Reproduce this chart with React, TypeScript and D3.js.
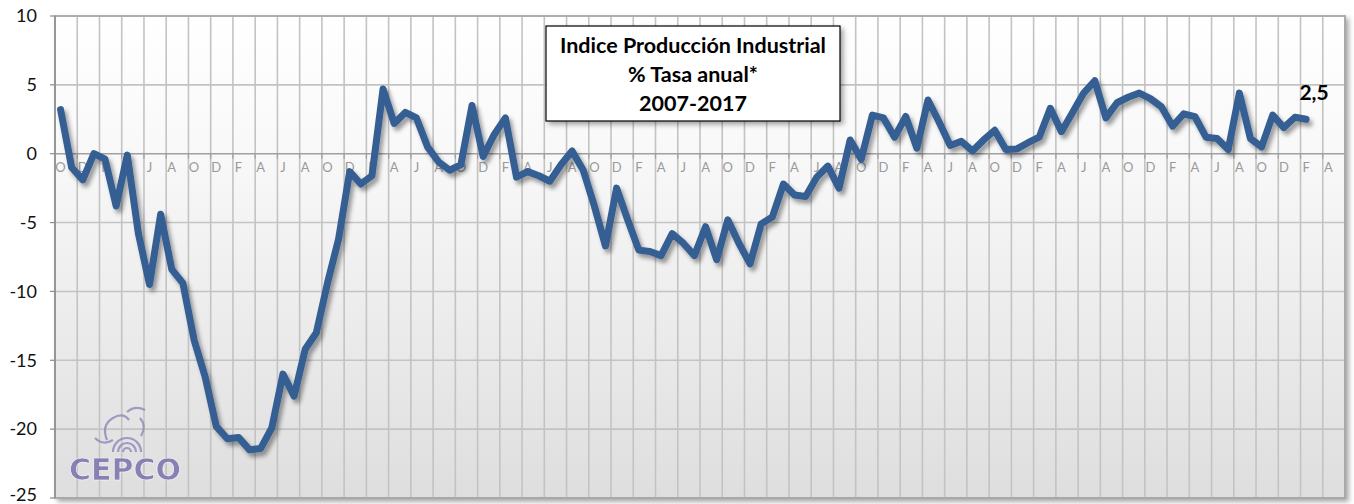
import React from "react";
import * as d3 from "d3";

const MONTH_INITIALS = ["E", "F", "M", "A", "M", "J", "J", "A", "S", "O", "N", "D"];
// categories: Oct 2007 .. May 2017 (116 months); data through Feb 2017
const START_YEAR = 2007;
const START_MONTH = 9; // October (0-based)
const N_CATEGORIES = 116;

const values: number[] = [
  3.2, -1.0, -1.9, 0.0, -0.4, -3.8, -0.1, -5.8, -9.5, -4.4, -8.4, -9.4,
  -13.5, -16.2, -19.8, -20.7, -20.6, -21.5, -21.4, -19.9, -16.0, -17.6, -14.2, -13.0,
  -9.4, -6.2, -1.3, -2.2, -1.6, 4.7, 2.2, 3.0, 2.6, 0.5, -0.6, -1.2,
  -0.8, 3.5, -0.2, 1.4, 2.6, -1.7, -1.3, -1.6, -2.0, -0.8, 0.2, -1.2,
  -3.8, -6.7, -2.5, -4.8, -7.0, -7.1, -7.4, -5.8, -6.5, -7.4, -5.3, -7.7,
  -4.8, -6.5, -8.0, -5.1, -4.6, -2.2, -3.0, -3.1, -1.7, -0.9, -2.5, 1.0,
  -0.4, 2.8, 2.6, 1.2, 2.7, 0.4, 3.9, 2.3, 0.6, 0.9, 0.2, 1.0,
  1.7, 0.3, 0.35, 0.8, 1.2, 3.3, 1.6, 3.0, 4.4, 5.3, 2.6, 3.7,
  4.1, 4.4, 4.0, 3.4, 2.0, 2.9, 2.7, 1.2, 1.1, 0.3, 4.4, 1.1,
  0.5, 2.8, 1.9, 2.65, 2.5,
];

const yTicks: number[] = [10, 5, 0, -5, -10, -15, -20, -25];
const titleLines: string[] = ["Indice Producción Industrial", "% Tasa anual*", "2007-2017"];
const lastLabel = "2,5";

// unique category keys (year-month) and their one-letter labels
const categories: string[] = d3.range(N_CATEGORIES).map((i) => {
  const m = (START_MONTH + i) % 12;
  const y = START_YEAR + Math.floor((START_MONTH + i) / 12);
  return `${y}-${String(m + 1).padStart(2, "0")}`;
});
const categoryLabels: string[] = d3.range(N_CATEGORIES).map(
  (i) => MONTH_INITIALS[(START_MONTH + i) % 12]
);

const W = 1354;
const H = 504;
const M = { left: 55, right: 1345, top: 16, bottom: 498 };

export default function App() {
  const x = d3
    .scaleBand<string>()
    .domain(categories)
    .range([M.left, M.right])
    .padding(0);
  const bw = x.bandwidth();
  const cx = (i: number) => (x(categories[i]) as number) + bw / 2;
  const y = d3.scaleLinear().domain([-25, 10]).range([M.bottom, M.top]);

  const line = d3
    .line<number>()
    .x((_, i) => cx(i))
    .y((d) => y(d))
    .curve(d3.curveLinear);

  const gridIdx = d3.range(2, N_CATEGORIES, 2);
  const labelIdx = d3.range(0, N_CATEGORIES, 2);
  const lastI = values.length - 1;

  const font = "Lato, 'Open Sans', sans-serif";

  return (
    <svg
      width={W}
      height={H}
      style={{ position: "absolute", left: 0, top: 0, background: "#fff" }}
    >
      <defs>
        <linearGradient id="bg" x1="0" y1="0" x2="0" y2="1">
          <stop offset="0" stopColor="#ffffff" />
          <stop offset="0.3" stopColor="#f8f8f8" />
          <stop offset="1" stopColor="#dedede" />
        </linearGradient>
        <filter id="lineShadow" x="-5%" y="-5%" width="110%" height="120%">
          <feDropShadow dx="3" dy="4" stdDeviation="2.2" floodColor="#000" floodOpacity="0.38" />
        </filter>
        <filter id="boxShadow" x="-10%" y="-10%" width="120%" height="130%">
          <feDropShadow dx="3" dy="3" stdDeviation="2.5" floodColor="#000" floodOpacity="0.35" />
        </filter>
        <filter id="plotShadow" x="-2%" y="-2%" width="104%" height="106%">
          <feDropShadow dx="3" dy="3" stdDeviation="2.5" floodColor="#000" floodOpacity="0.35" />
        </filter>
      </defs>

      {/* plot area */}
      <rect
        x={M.left}
        y={M.top}
        width={M.right - M.left}
        height={M.bottom - M.top}
        fill="url(#bg)"
        stroke="#a6a6a6"
        strokeWidth={1.5}
        filter="url(#plotShadow)"
      />

      {/* vertical gridlines */}
      {gridIdx.map((i) => {
        const gx = x(categories[i]) as number;
        return (
          <line key={"v" + i} x1={gx} x2={gx} y1={M.top} y2={M.bottom} stroke="#c3c3c3" strokeWidth={1.6} />
        );
      })}
      {/* horizontal gridlines */}
      {yTicks.filter((t) => t !== -25 && t !== 0).map((t) => (
        <line key={"h" + t} x1={M.left} x2={M.right} y1={y(t)} y2={y(t)} stroke="#c3c3c3" strokeWidth={1.6} />
      ))}
      <line x1={M.left} x2={M.right} y1={y(0)} y2={y(0)} stroke="#a0a0a0" strokeWidth={1.6} />
      {gridIdx.map((i) => {
        const gx = x(categories[i]) as number;
        return <line key={"zt" + i} x1={gx} x2={gx} y1={y(0)} y2={y(0) + 5} stroke="#a0a0a0" strokeWidth={1.2} />;
      })}

      {/* plot frame */}
      <rect
        x={M.left}
        y={M.top}
        width={M.right - M.left}
        height={M.bottom - M.top}
        fill="none"
        stroke="#a6a6a6"
        strokeWidth={1.5}
      />
      <line x1={M.left} x2={M.left} y1={M.top} y2={M.bottom} stroke="#8c8c8c" strokeWidth={1.3} />

      {/* y axis ticks and labels */}
      {yTicks.map((t) => (
        <g key={"yt" + t}>
          <line x1={M.left - 5} x2={M.left} y1={y(t)} y2={y(t)} stroke="#8c8c8c" strokeWidth={1.2} />
          <text
            x={37}
            y={Math.min(y(t), H - 9)}
            dy="0.35em"
            textAnchor="end"
            fontFamily={font}
            fontSize={18}
            fill="#111"
          >
            {t}
          </text>
        </g>
      ))}

      {/* month labels */}
      {labelIdx.map((i) => (
        <text
          key={"ml" + i}
          x={cx(i)}
          y={y(0) + 14}
          dy="0.35em"
          textAnchor="middle"
          fontFamily={font}
          fontSize={13}
          fill="#9a9a9a"
        >
          {categoryLabels[i]}
        </text>
      ))}

      {/* logo */}
      <g opacity={0.8}>
        <g fill="none" stroke="#8f89b8" strokeWidth={2.2}>
          <path d={`M 113 452 A 14 14 0 0 1 141 452`} />
          <path d={`M 118 452 A 9 9 0 0 1 136 452`} />
          <path d={`M 123 452 A 4 4 0 0 1 131 452`} />
          <path d={`M 107 440 Q 101 425 113 418 Q 123 412 129 420`} />
          <path d={`M 127 412 Q 135 405 145 410`} />
          <path d={`M 140 418 Q 147 426 141 436`} />
          <path d={`M 95 438 Q 103 446 113 440`} />
        </g>
        <text
          x={125}
          y={480}
          textAnchor="middle"
          fontFamily="'DejaVu Sans', sans-serif"
          fontWeight="bold"
          fontSize={30}
          letterSpacing={0}
          fill="#736aa8"
          stroke="#ffffff"
          strokeWidth={0.6}
        >
          CEPCO
        </text>
      </g>

      {/* data line */}
      <path
        d={line(values) || ""}
        fill="none"
        stroke="#345f92"
        strokeWidth={7}
        strokeLinejoin="round"
        strokeLinecap="round"
        filter="url(#lineShadow)"
      />

      {/* last value label */}
      <text
        x={cx(lastI) + 8}
        y={y(values[lastI]) - 19}
        textAnchor="middle"
        fontFamily={font}
        fontWeight="bold"
        fontSize={21}
        fill="#000"
      >
        {lastLabel}
      </text>

      {/* title box */}
      <rect x={546} y={26} width={294} height={95} fill="#fff" stroke="#000" strokeWidth={1.2} filter="url(#boxShadow)" />
      {titleLines.map((t, k) => (
        <text
          key={"tt" + k}
          x={693}
          y={45 + k * 29}
          dy="0.35em"
          textAnchor="middle"
          fontFamily={font}
          fontWeight="bold"
          fontSize={21.5}
          fill="#000"
        >
          {t}
        </text>
      ))}
    </svg>
  );
}
